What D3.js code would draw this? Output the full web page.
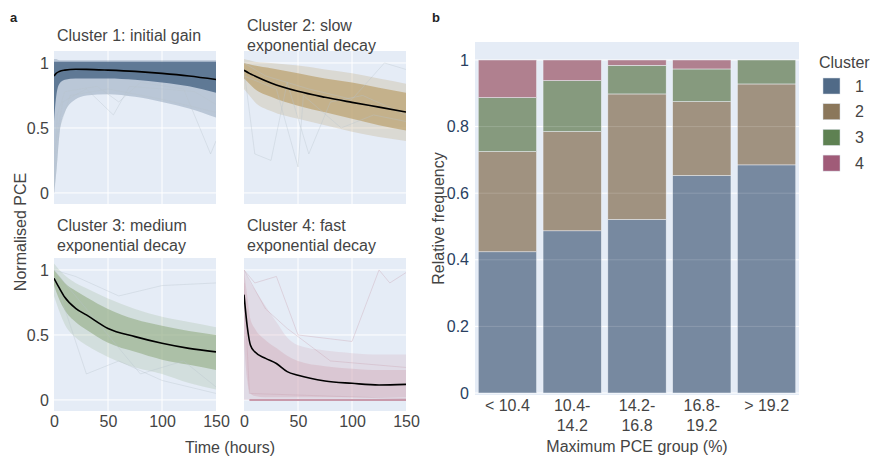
<!DOCTYPE html>
<html lang="en">
<head>
<meta charset="UTF-8">
<title>PCE clusters</title>
<script src="https://cdn.jsdelivr.net/npm/d3@7"></script>
<style>
  body { margin: 0; background: #fff; }
  text { font-family: "Liberation Sans", Arial, sans-serif; }
</style>
</head>
<body>
<script>
// ---- data ----
var clusterNames = ["1", "2", "3", "4"];
var clusterTitles = [
  ["Cluster 1: initial gain"],
  ["Cluster 2: slow", "exponential decay"],
  ["Cluster 3: medium", "exponential decay"],
  ["Cluster 4: fast", "exponential decay"]
];

// cluster 1
var t1 = [0, 2, 5, 10, 20, 30, 50, 75, 100, 125, 150];
var mean1 = [0.90, 0.92, 0.935, 0.945, 0.952, 0.951, 0.945, 0.935, 0.92, 0.90, 0.873];
var coreHi1 = [1.01, 1.01, 1.01, 1.01, 1.01, 1.01, 1.01, 1.01, 1.01, 1.01, 1.01];
var coreLo1 = [0.55, 0.74, 0.84, 0.87, 0.88, 0.88, 0.88, 0.87, 0.85, 0.82, 0.77];
var outHi1 = [1.03, 1.03, 1.02, 1.02, 1.02, 1.02, 1.02, 1.02, 1.02, 1.02, 1.02];
var outLo1 = [0.0, 0.15, 0.45, 0.62, 0.72, 0.75, 0.76, 0.74, 0.70, 0.65, 0.58];

// cluster 2
var t2 = [0, 5, 10, 25, 50, 75, 100, 125, 150];
var mean2 = [0.944, 0.92, 0.90, 0.846, 0.782, 0.736, 0.697, 0.66, 0.623];
var coreHi2 = [1.0, 0.99, 0.98, 0.96, 0.92, 0.88, 0.85, 0.81, 0.77];
var coreLo2 = [0.88, 0.84, 0.80, 0.74, 0.67, 0.62, 0.57, 0.52, 0.48];
var outHi2 = [1.03, 1.02, 1.01, 1.0, 0.98, 0.95, 0.92, 0.88, 0.84];
var outLo2 = [0.80, 0.75, 0.70, 0.63, 0.57, 0.52, 0.47, 0.43, 0.40];

// cluster 3
var t3 = [0, 5, 10, 20, 30, 50, 75, 100, 125, 150];
var mean3 = [0.936, 0.86, 0.79, 0.705, 0.654, 0.55, 0.487, 0.436, 0.397, 0.37];
var coreHi3 = [1.0, 0.95, 0.90, 0.84, 0.79, 0.70, 0.62, 0.57, 0.53, 0.50];
var coreLo3 = [0.88, 0.77, 0.69, 0.60, 0.54, 0.44, 0.37, 0.31, 0.27, 0.23];
var outHi3 = [1.05, 1.0, 0.96, 0.90, 0.86, 0.78, 0.70, 0.64, 0.60, 0.56];
var outLo3 = [0.80, 0.68, 0.58, 0.48, 0.42, 0.33, 0.25, 0.20, 0.13, 0.08];

// cluster 4
var t4 = [0, 3, 6, 10, 20, 30, 40, 50, 75, 100, 125, 150];
var mean4 = [0.81, 0.565, 0.42, 0.37, 0.32, 0.28, 0.218, 0.19, 0.146, 0.128, 0.115, 0.12];
var coreHi4 = [1.0, 0.80, 0.62, 0.55, 0.46, 0.40, 0.34, 0.30, 0.26, 0.24, 0.23, 0.23];
var coreLo4 = [0.45, 0.15, 0.05, 0.03, 0.02, 0.02, 0.02, 0.02, 0.02, 0.02, 0.02, 0.02];
var outHi4 = [1.0, 0.95, 0.90, 0.85, 0.72, 0.60, 0.48, 0.42, 0.38, 0.36, 0.35, 0.35];
var outLo4 = [0.0, 0.0, 0.0, 0.0, 0.0, 0.0, 0.0, 0.0, 0.0, 0.0, 0.0, 0.0];

// a few single faint traces, as [time, value]
var stray1 = [
  [[0, 0.05], [3, 0.6], [10, 0.78], [40, 0.82], [60, 0.7], [80, 0.85], [120, 0.8], [145, 0.3], [150, 0.4]],
  [[0, 0.0], [5, 0.5], [15, 0.75], [50, 0.8], [100, 0.72], [150, 0.62]],
  [[0, 0.3], [8, 0.7], [30, 0.8], [55, 0.6], [70, 0.82], [130, 0.78], [150, 0.68]]
];
var stray2 = [
  [[0, 0.95], [10, 0.3], [25, 0.25], [40, 0.85], [60, 0.3], [80, 0.7], [110, 0.75], [150, 0.6]],
  [[0, 0.9], [30, 0.8], [50, 0.2], [55, 0.75], [90, 0.5], [120, 0.6], [150, 0.55]],
  [[0, 1.0], [20, 0.9], [60, 0.8], [100, 0.72], [130, 1.0], [150, 0.95]]
];
var stray3 = [
  [[0, 1.0], [20, 0.95], [60, 0.8], [100, 0.88], [150, 0.9]],
  [[0, 0.95], [30, 0.2], [60, 0.3], [100, 0.15], [150, 0.05]],
  [[0, 1.0], [40, 0.6], [80, 0.2], [120, 0.3], [150, 0.1]]
];
var stray4 = [
  [[0, 1.0], [10, 0.9], [30, 0.95], [50, 0.5], [100, 0.45], [125, 1.0], [135, 0.9], [150, 0.98]],
  [[0, 1.0], [20, 0.7], [40, 0.55], [80, 0.3], [150, 0.25]],
  [[0, 0.9], [5, 0.05], [150, 0.01]]
];

// bar chart
var groups = ["< 10.4", "10.4-|14.2", "14.2-|16.8", "16.8-|19.2", "> 19.2"];
var share1 = [0.424, 0.487, 0.521, 0.653, 0.685];
var share2 = [0.301, 0.298, 0.377, 0.222, 0.243];
var share3 = [0.162, 0.153, 0.086, 0.098, 0.072];
var share4 = [0.113, 0.062, 0.016, 0.027, 0.0];
var yTicksBar = [0, 0.2, 0.4, 0.6, 0.8, 1];

// ---- look ----
var width = 872, height = 457;
var bandColor = ["#55708e", "#bb9f6c", "#93ab84", "#d2a9b7"];
var barColor = ["#7789a0", "#a09280", "#869a7e", "#b0808f"];
var legendColor = ["#506a87", "#8b775b", "#5e8152", "#a05b78"];
var plotBg = "#e5ecf6";

var svg = d3.select("body").append("svg").attr("width", width).attr("height", height);

// ---- panel a ----
var cells = [
  {x0: 54, x1: 216, y0: 51, y1: 204},
  {x0: 244, x1: 406, y0: 51, y1: 204},
  {x0: 54, x1: 216, y0: 258, y1: 411},
  {x0: 244, x1: 406, y0: 258, y1: 411}
];
var series = [
  {t: t1, mean: mean1, hi: coreHi1, lo: coreLo1, ohi: outHi1, olo: outLo1, stray: stray1},
  {t: t2, mean: mean2, hi: coreHi2, lo: coreLo2, ohi: outHi2, olo: outLo2, stray: stray2},
  {t: t3, mean: mean3, hi: coreHi3, lo: coreLo3, ohi: outHi3, olo: outLo3, stray: stray3},
  {t: t4, mean: mean4, hi: coreHi4, lo: coreLo4, ohi: outHi4, olo: outLo4, stray: stray4}
];
var coreOpacity = [0.9, 0.7, 0.6, 0.4];
var outOpacity = [0.3, 0.25, 0.22, 0.25];

series.forEach(function(s, k) {
  var c = cells[k];
  var x = d3.scaleLinear().domain([0, 150]).range([c.x0, c.x1]);
  var y = d3.scaleLinear().domain([-0.085, 1.092]).range([c.y1, c.y0]);
  var g = svg.append("g");
  var clipId = "clip" + k;
  g.append("clipPath").attr("id", clipId).append("rect")
    .attr("x", c.x0).attr("y", c.y0).attr("width", c.x1 - c.x0).attr("height", c.y1 - c.y0);
  g.append("rect").attr("x", c.x0).attr("y", c.y0)
    .attr("width", c.x1 - c.x0).attr("height", c.y1 - c.y0).attr("fill", plotBg);

  // grid
  g.selectAll(".gx").data([50, 100]).enter().append("line")
    .attr("x1", function(d) { return x(d); }).attr("x2", function(d) { return x(d); })
    .attr("y1", c.y0).attr("y2", c.y1).attr("stroke", "#fff").attr("stroke-width", 1);
  g.selectAll(".gy").data([0, 0.5, 1]).enter().append("line")
    .attr("x1", c.x0).attr("x2", c.x1)
    .attr("y1", function(d) { return y(d); }).attr("y2", function(d) { return y(d); })
    .attr("stroke", "#fff").attr("stroke-width", 1);

  var body = g.append("g").attr("clip-path", "url(#" + clipId + ")");
  var idx = d3.range(s.t.length);
  var area = function(hi, lo) {
    return d3.area().curve(d3.curveMonotoneX)
      .x(function(i) { return x(s.t[i]); })
      .y0(function(i) { return y(lo[i]); })
      .y1(function(i) { return y(hi[i]); })(idx);
  };
  body.append("path").attr("d", area(s.ohi, s.olo)).attr("fill", bandColor[k]).attr("opacity", outOpacity[k]);
  body.append("path").attr("d", area(s.hi, s.lo)).attr("fill", bandColor[k]).attr("opacity", coreOpacity[k]);

  var strayLine = d3.line().x(function(d) { return x(d[0]); }).y(function(d) { return y(d[1]); });
  body.selectAll(".stray").data(s.stray).enter().append("path")
    .attr("d", strayLine).attr("fill", "none")
    .attr("stroke", k === 3 ? "#c9a0b0" : "#b8c2cc").attr("stroke-width", 1).attr("opacity", 0.35);

  if (k === 3) {
    // dense bundle sitting on zero
    body.append("line").attr("x1", x(5)).attr("x2", x(150))
      .attr("y1", y(0)).attr("y2", y(0)).attr("stroke", "#c99aab").attr("stroke-width", 2);
  }

  var meanLine = d3.line().curve(d3.curveMonotoneX)
    .x(function(i) { return x(s.t[i]); }).y(function(i) { return y(s.mean[i]); });
  body.append("path").attr("d", meanLine(idx)).attr("fill", "none")
    .attr("stroke", "#000").attr("stroke-width", 1.6);

  // tick labels
  if (k === 0 || k === 2) {
    var yAxis = d3.axisLeft(y).tickValues([0, 0.5, 1]).tickFormat(d3.format("")).tickSize(0).tickPadding(5);
    var ya = svg.append("g").attr("transform", "translate(" + c.x0 + ",0)").call(yAxis);
    ya.select(".domain").remove();
    ya.selectAll("text").attr("font-size", 16).attr("fill", "#444").attr("font-family", "Liberation Sans, Arial");
  }
  if (k >= 2) {
    var xAxis = d3.axisBottom(x).tickValues([0, 50, 100, 150]).tickSize(0).tickPadding(5);
    var xa = svg.append("g").attr("transform", "translate(0," + c.y1 + ")").call(xAxis);
    xa.select(".domain").remove();
    xa.selectAll("text").attr("font-size", 16).attr("fill", "#444").attr("font-family", "Liberation Sans, Arial");
  }

  // subplot title
  var lines = clusterTitles[k];
  var ty = lines.length === 1 ? c.y0 - 16 : c.y0 - 26;
  if (k >= 2) ty = c.y0 - 33;
  lines.forEach(function(l, j) {
    svg.append("text").attr("x", c.x0 + 3).attr("y", ty + j * 20)
      .attr("dy", "0.35em").attr("font-size", 16).attr("fill", "#444").text(l);
  });
});

svg.append("text").attr("x", 10).attr("y", 17).attr("font-size", 13)
  .attr("font-weight", "bold").attr("fill", "#222").attr("dy", "0.35em").text("a");
svg.append("text").attr("transform", "translate(20,232) rotate(-90)")
  .attr("text-anchor", "middle").attr("dy", "0.35em").attr("font-size", 16).attr("fill", "#444")
  .text("Normalised PCE");
svg.append("text").attr("x", 230).attr("y", 447).attr("text-anchor", "middle")
  .attr("dy", "0.35em").attr("font-size", 16).attr("fill", "#444").text("Time (hours)");

// ---- panel b ----
var bx0 = 475, bx1 = 799, by0 = 42, by1 = 395;
var xb = d3.scaleBand().domain(groups).range([bx0, bx1]).paddingInner(0.1).paddingOuter(0.05);
var yb = d3.scaleLinear().domain([-0.006, 1.054]).range([by1, by0]);

svg.append("rect").attr("x", bx0).attr("y", by0).attr("width", bx1 - bx0)
  .attr("height", by1 - by0).attr("fill", plotBg);
svg.selectAll(".gb").data(yTicksBar).enter().append("line")
  .attr("x1", bx0).attr("x2", bx1)
  .attr("y1", function(d) { return yb(d); }).attr("y2", function(d) { return yb(d); })
  .attr("stroke", "#fff").attr("stroke-width", 1);

var stackRows = groups.map(function(gname, i) {
  return {group: gname, c1: share1[i], c2: share2[i], c3: share3[i], c4: share4[i]};
});
var stacked = d3.stack().keys(["c1", "c2", "c3", "c4"])(stackRows);

svg.append("g").selectAll("g").data(stacked).enter().append("g")
  .attr("fill", function(d, i) { return barColor[i]; })
  .selectAll("rect").data(function(d) { return d; }).enter().append("rect")
  .attr("x", function(d) { return xb(d.data.group); })
  .attr("width", xb.bandwidth())
  .attr("y", function(d) { return yb(d[1]); })
  .attr("height", function(d) { return yb(d[0]) - yb(d[1]); })
  .attr("stroke", "#eef2f8").attr("stroke-width", 0.5);

// gridlines show faintly over the bars
svg.selectAll(".gb2").data(yTicksBar.slice(1, 5)).enter().append("line")
  .attr("x1", bx0).attr("x2", bx1)
  .attr("y1", function(d) { return yb(d); }).attr("y2", function(d) { return yb(d); })
  .attr("stroke", "#fff").attr("stroke-width", 1).attr("opacity", 0.15);

var yAxisB = d3.axisLeft(yb).tickValues(yTicksBar).tickFormat(d3.format("")).tickSize(0).tickPadding(6);
var yab = svg.append("g").attr("transform", "translate(" + bx0 + ",0)").call(yAxisB);
yab.select(".domain").remove();
yab.selectAll("text").attr("font-size", 16).attr("fill", "#2a3f5f").attr("font-family", "Liberation Sans, Arial");

var xAxisB = d3.axisBottom(xb).tickSize(0).tickPadding(0).tickFormat("");
var xab = svg.append("g").attr("transform", "translate(0," + by1 + ")").call(xAxisB);
xab.select(".domain").remove();
xab.selectAll(".tick").each(function(d) {
  var parts = d.split("|");
  var t = d3.select(this).append("text").attr("text-anchor", "middle")
    .attr("font-size", 16).attr("fill", "#444").attr("font-family", "Liberation Sans, Arial");
  parts.forEach(function(p, j) {
    t.append("tspan").attr("x", 0).attr("y", 10 + j * 20).attr("dy", "0.35em").text(p);
  });
});

svg.append("text").attr("x", 432).attr("y", 17).attr("font-size", 13)
  .attr("font-weight", "bold").attr("fill", "#222").attr("dy", "0.35em").text("b");
svg.append("text").attr("transform", "translate(438," + ((by0 + by1) / 2) + ") rotate(-90)")
  .attr("text-anchor", "middle").attr("dy", "0.35em").attr("font-size", 16).attr("fill", "#444")
  .text("Relative frequency");
svg.append("text").attr("x", (bx0 + bx1) / 2).attr("y", 446).attr("text-anchor", "middle")
  .attr("dy", "0.35em").attr("font-size", 16).attr("fill", "#444").text("Maximum PCE group (%)");

// legend
var legend = svg.append("g");
legend.append("text").attr("x", 819).attr("y", 62).attr("dy", "0.35em")
  .attr("font-size", 16).attr("fill", "#444").text("Cluster");
var items = legend.selectAll(".item").data(clusterNames).enter().append("g")
  .attr("transform", function(d, i) { return "translate(0," + (86 + i * 25.7) + ")"; });
items.append("rect").attr("x", 823).attr("y", -8).attr("width", 17).attr("height", 16)
  .attr("fill", function(d, i) { return legendColor[i]; })
  .attr("stroke", "#d8dde6").attr("stroke-width", 0.5);
items.append("text").attr("x", 855).attr("dy", "0.35em").attr("font-size", 16)
  .attr("fill", "#444").text(function(d) { return d; });
</script>
</body>
</html>
